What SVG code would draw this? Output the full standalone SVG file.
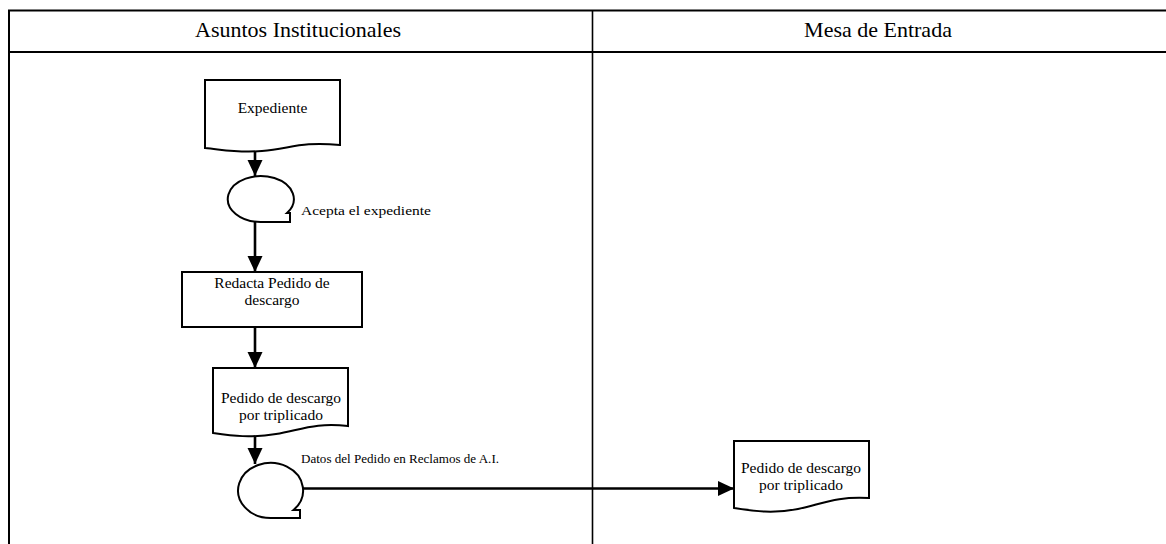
<svg xmlns="http://www.w3.org/2000/svg" width="1166" height="544" viewBox="0 0 1166 544">
  <style>
    .frame { fill: none; stroke: #000; stroke-width: 2; }
    .shape { fill: #fff; stroke: #000; stroke-width: 2; stroke-linejoin: miter; }
    .conn { fill: none; stroke: #000; stroke-width: 2.6; }
    .lane { font-family: "Liberation Serif", "Times New Roman", serif; font-size: 22px; fill: #000; text-anchor: middle; }
    .lbl { font-family: "Liberation Serif", "Times New Roman", serif; font-size: 15.5px; fill: #000; text-anchor: middle; }
    .note { font-family: "Liberation Serif", "Times New Roman", serif; font-size: 12px; fill: #000; }
  </style>
  <defs>
    <marker id="arrow" markerUnits="userSpaceOnUse" markerWidth="16" markerHeight="16" viewBox="0 0 16 15" refX="16" refY="7.5" orient="auto">
      <path d="M0,0 L16,7.5 L0,15 Z" fill="#000"/>
    </marker>
  </defs>

  <rect width="1166" height="544" fill="#fff"/>

  <!-- swimlane frame -->
  <g id="lanes">
    <path class="frame" d="M9,544 V10.5 H1170"/>
    <path class="frame" d="M9,52 H1170"/>
    <line x1="592.5" y1="10" x2="592.5" y2="544" stroke="#000" stroke-width="1.6"/>
    <text class="lane" x="298" y="37">Asuntos Institucionales</text>
    <text class="lane" x="878" y="37">Mesa de Entrada</text>
  </g>

  <!-- connectors -->
  <g id="connectors">
    <line class="conn" x1="255" y1="151" x2="255" y2="176" marker-end="url(#arrow)"/>
    <line class="conn" x1="255" y1="222" x2="255" y2="272" marker-end="url(#arrow)"/>
    <line class="conn" x1="255" y1="327" x2="255" y2="368" marker-end="url(#arrow)"/>
    <line class="conn" x1="255" y1="436" x2="255" y2="464" marker-end="url(#arrow)"/>
    <line class="conn" x1="303" y1="488.5" x2="734" y2="488.5" marker-end="url(#arrow)"/>
  </g>

  <!-- document: Expediente -->
  <g id="doc-expediente">
    <path class="shape" d="M205,80 H340 V145 C300,141 290,149 262,151 C238,153 225,150 205,148 Z"/>
    <text class="lbl" x="272.5" y="113">Expediente</text>
  </g>

  <!-- tape: Acepta el expediente -->
  <g id="tape-acepta">
    <path class="shape" d="M262,222 H290 V213 H287 A33,23 0 1 0 262,222 Z"/>
    <text class="note" x="301" y="215" font-size="12.5" textLength="130" lengthAdjust="spacingAndGlyphs">Acepta el expediente</text>
  </g>

  <!-- process: Redacta Pedido de descargo -->
  <g id="proc-redacta">
    <rect class="shape" x="182" y="272" width="180" height="55"/>
    <text class="lbl" x="272" y="288">Redacta Pedido de</text>
    <text class="lbl" x="272" y="305">descargo</text>
  </g>

  <!-- document: Pedido de descargo (Asuntos Institucionales) -->
  <g id="doc-pedido-ai">
    <path class="shape" d="M213,368 H348 V426 C316,422 300,430 276,434 C250,438 234,436 213,433 Z"/>
    <text class="lbl" x="281" y="403">Pedido de descargo</text>
    <text class="lbl" x="281" y="420">por triplicado</text>
  </g>

  <!-- tape: Datos del Pedido en Reclamos de A.I. -->
  <g id="tape-datos">
    <path class="shape" d="M270.5,518 H300 V510 H293.5 A32.5,27.5 0 1 0 270.5,518 Z"/>
    <text class="note" x="301" y="463" font-size="11" textLength="198" lengthAdjust="spacingAndGlyphs">Datos del Pedido en Reclamos de A.I.</text>
  </g>

  <!-- document: Pedido de descargo (Mesa de Entrada) -->
  <g id="doc-pedido-me">
    <path class="shape" d="M734,441 H869 V498 C836,496 822,504 798,509 C772,514 754,511 734,508 Z"/>
    <text class="lbl" x="801" y="473">Pedido de descargo</text>
    <text class="lbl" x="801" y="490">por triplicado</text>
  </g>
</svg>
